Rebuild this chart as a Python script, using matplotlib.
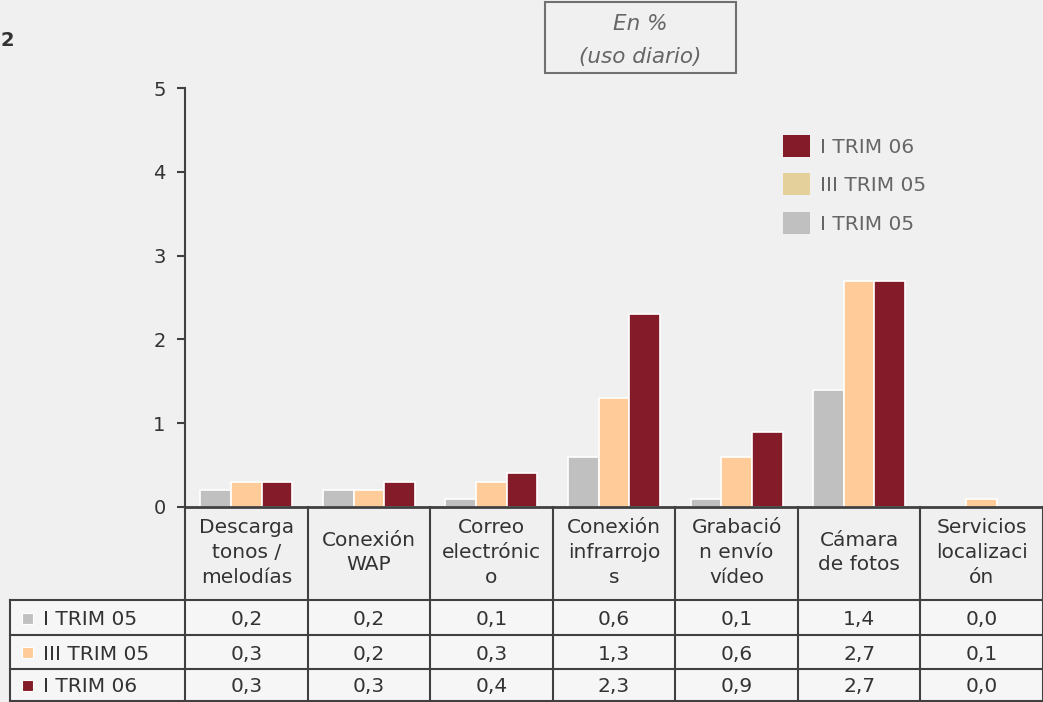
import numpy as np
import matplotlib
matplotlib.use('Agg')
import matplotlib.pyplot as plt
from matplotlib.patches import Patch, Rectangle
from matplotlib import transforms

plt.rcParams['font.family'] = ['DejaVu Sans']

# данные
categories = ['Descarga\ntonos /\nmelodías', 'Conexión\nWAP', 'Correo\nelectrónic\no',
              'Conexión\ninfrarrojo\ns', 'Grabació\nn envío\nvídeo', 'Cámara\nde fotos',
              'Servicios\nlocalizaci\nón']
series_names = ['I TRIM 05', 'III TRIM 05', 'I TRIM 06']
trim05_i = [0.2, 0.2, 0.1, 0.6, 0.1, 1.4, 0.0]
trim05_iii = [0.3, 0.2, 0.3, 1.3, 0.6, 2.7, 0.1]
trim06_i = [0.3, 0.3, 0.4, 2.3, 0.9, 2.7, 0.0]
yticks = [0, 1, 2, 3, 4, 5]

bar_colors = ['#c0c0c0', '#ffcc99', '#831b28']
legend_colors = ['#c0c0c0', '#e3d09b', '#831b28']
bg = '#f0f0f0'
txt = '#333333'
line_c = '#404040'
fs = 14.5

W, H = 1043, 702
fig = plt.figure(figsize=(W / 100, H / 100), dpi=100, facecolor=bg)
ax = fig.add_axes([185 / W, 1 - 507 / H, 1 - 185 / W, (507 - 88) / H])
ax.set_facecolor(bg)

series = [trim05_i, trim05_iii, trim06_i]
x = np.arange(len(categories))
width = 0.25
for i, (vals, col) in enumerate(zip(series, bar_colors)):
    ax.bar(x + (i - 1) * width, vals, width, color=col, edgecolor='white', linewidth=1.2, zorder=3)

ax.set_xlim(-0.5, len(categories) - 0.5)
ax.set_ylim(0, 5)
ax.set_yticks(yticks)
ax.set_yticklabels([str(t) for t in yticks], fontsize=14, color=txt)
ax.tick_params(axis='y', length=6, width=1.5, color=line_c, pad=8)
ax.set_xticks([])
for s in ['top', 'right', 'bottom']:
    ax.spines[s].set_visible(False)
ax.spines['left'].set_color(line_c)
ax.spines['left'].set_linewidth(1.5)
ax.axhline(0, color=line_c, lw=2, zorder=4, clip_on=False)

# легенда
handles = [Patch(facecolor=legend_colors[i], edgecolor='none', label=series_names[i]) for i in [2, 1, 0]]
leg = ax.legend(handles=handles, loc='upper left', bbox_to_anchor=(0.697, 0.888), frameon=False,
                fontsize=14.5, handlelength=1.35, handleheight=1.3, labelspacing=0.82,
                handletextpad=0.5, borderpad=0, borderaxespad=0)
for t in leg.get_texts():
    t.set_color('#666666')

# таблица
bt = transforms.blended_transform_factory(ax.transData, fig.transFigure)
y_top = 1 - 507 / H
y_head = 1 - 600 / H
row_edges = [y_head, 1 - 635 / H, 1 - 669 / H, 0.002]
x_left = 10 / W

# фон ячеек
fig.patches.append(Rectangle((x_left, 0), 1 - x_left, y_head, transform=fig.transFigure,
                             facecolor='#f6f6f6', edgecolor='none', zorder=-5))

for k in range(len(categories) + 1):
    ax.plot([k - 0.5, k - 0.5], [y_top, 0], transform=bt, color=line_c, lw=1.5, clip_on=False)
ax.plot([x_left, x_left], [y_head, 0], transform=fig.transFigure, color=line_c, lw=1.5, clip_on=False)
for y in row_edges:
    ax.plot([x_left, 1], [y, y], transform=fig.transFigure, color=line_c, lw=1.5, clip_on=False)

for k, cat in enumerate(categories):
    ax.text(k, (y_top + y_head) / 2 + 1 / H, cat, transform=bt, ha='center', va='center',
            fontsize=fs, color=txt, linespacing=1.4)

for r, (name, vals) in enumerate(zip(series_names, series)):
    yc = (row_edges[r] + row_edges[r + 1]) / 2
    fig.patches.append(Rectangle((22 / W, yc - 6 / H), 11 / W, 11 / H, transform=fig.transFigure,
                                 facecolor=bar_colors[r], edgecolor='white', lw=0.8, zorder=2))
    fig.text(43 / W, yc - 2 / H, name, ha='left', va='center', fontsize=fs, color=txt)
    for k, v in enumerate(vals):
        ax.text(k, yc - 2 / H, f'{v:.1f}'.replace('.', ','), transform=bt, ha='center', va='center',
                fontsize=fs, color=txt)

# подпись в рамке
fig.patches.append(Rectangle((545 / W, 1 - 73 / H), 191 / W, 71 / H, transform=fig.transFigure,
                             facecolor='none', edgecolor='#707070', lw=1.5))
fig.text(640 / W, 1 - 24 / H, 'En %', ha='center', va='center', fontsize=15.5, style='italic', color='#666666')
fig.text(640 / W, 1 - 57 / H, '(uso diario)', ha='center', va='center', fontsize=15.5, style='italic', color='#666666')

fig.text(0, 1 - 40 / H, '2', ha='left', va='center', fontsize=14, weight='bold', color=txt)

fig.savefig('out.png', dpi=100, facecolor=bg)
